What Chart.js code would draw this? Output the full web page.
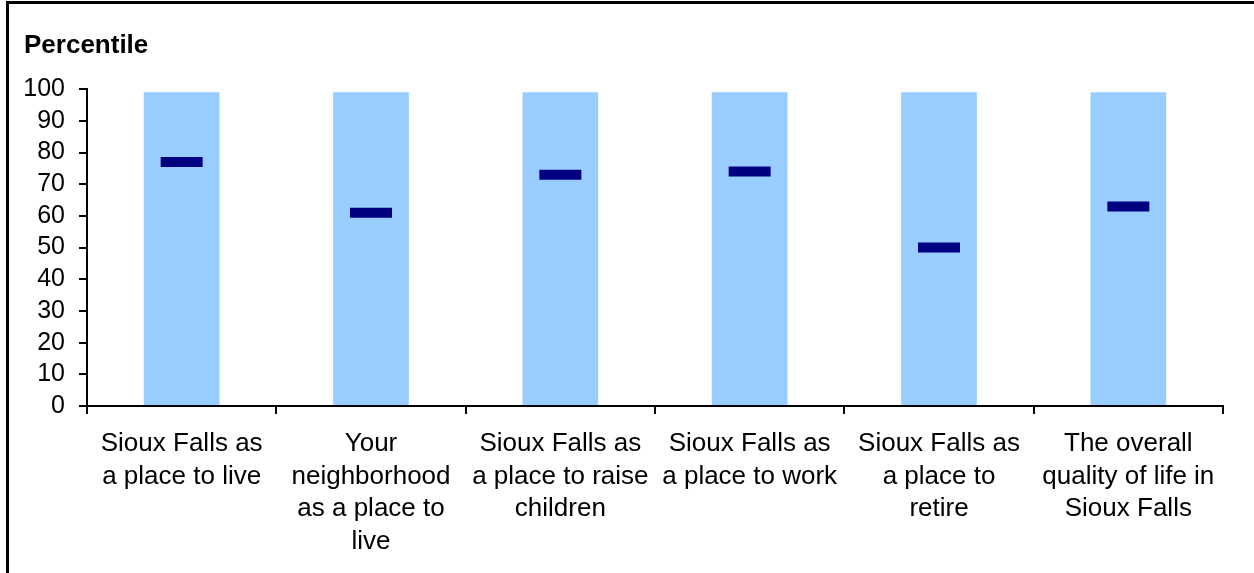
<!DOCTYPE html>
<html>
<head>
<meta charset="utf-8">
<script src="https://cdn.jsdelivr.net/npm/chart.js@4"></script>
<style>
    body { margin: 0; background: #fff; }
    #wrap { position: relative; width: 1254px; height: 573px; overflow: hidden; }
    #frame { position: absolute; left: 6px; top: 1px; width: 1300px; height: 700px; border-top: 3px solid #000; border-left: 3px solid #000; pointer-events: none; }
</style>
</head>
<body>
<div id="wrap">
    <canvas id="chart" width="1254" height="573"></canvas>
    <div id="frame"></div>
</div>
<script>
// categories (wrapped the same way as the picture)
const categories = [
    ['Sioux Falls as', 'a place to live'],
    ['Your', 'neighborhood', 'as a place to', 'live'],
    ['Sioux Falls as', 'a place to raise', 'children'],
    ['Sioux Falls as', 'a place to work'],
    ['Sioux Falls as', 'a place to', 'retire'],
    ['The overall', 'quality of life in', 'Sioux Falls']
];
// background range bars (percentile scale goes to 99)
const rangeValues = [99, 99, 99, 99, 99, 99];
// percentile markers
const percentileValues = [77, 61, 73, 74, 50, 63];
const yTicks = [0, 10, 20, 30, 40, 50, 60, 70, 80, 90, 100];

const fontFamily = '"Liberation Sans", Arial, sans-serif';

new Chart(document.getElementById('chart'), {
    type: 'bar',
    data: {
        labels: categories,
        datasets: [{
            type: 'line',
            label: 'Percentile',
            data: percentileValues,
            showLine: false,
            pointStyle: 'line',
            pointRadius: 21,
            pointHoverRadius: 21,
            pointBorderWidth: 10,
            pointHoverBorderWidth: 10,
            borderColor: '#000080',
            backgroundColor: '#000080',
            order: 0
        }, {
            label: 'Range',
            data: rangeValues,
            backgroundColor: '#99CCFF',
            borderWidth: 0,
            barPercentage: 0.4,
            categoryPercentage: 1,
            order: 1
        }]
    },
    options: {
        responsive: false,
        animation: false,
        events: [],
        layout: {
            padding: { left: 24, right: 31, top: 30, bottom: 1 }
        },
        plugins: {
            legend: { display: false },
            tooltip: { enabled: false },
            title: {
                display: true,
                text: 'Percentile',
                align: 'start',
                color: '#000',
                font: { family: fontFamily, size: 26, weight: 'bold', lineHeight: 1.2 },
                padding: { top: 0, bottom: 28 }
            }
        },
        scales: {
            x: {
                grid: {
                    display: true,
                    drawOnChartArea: false,
                    drawTicks: true,
                    tickLength: 8,
                    color: '#000',
                    lineWidth: 2,
                    offset: true
                },
                border: { color: '#000', width: 2 },
                ticks: {
                    color: '#000',
                    autoSkip: false,
                    maxRotation: 0,
                    minRotation: 0,
                    padding: 14,
                    font: { family: fontFamily, size: 26, lineHeight: 1.25 }
                }
            },
            y: {
                min: 0,
                max: 100,
                afterFit: (scale) => { scale.width = 63; },
                afterBuildTicks: (scale) => { scale.ticks = yTicks.map(v => ({ value: v })); },
                grid: {
                    drawOnChartArea: false,
                    drawTicks: true,
                    tickLength: 8,
                    color: '#000',
                    lineWidth: 2
                },
                border: { color: '#000', width: 2 },
                ticks: {
                    color: '#000',
                    autoSkip: false,
                    padding: 14,
                    font: { family: fontFamily, size: 25 }
                }
            }
        }
    }
});
</script>
</body>
</html>
